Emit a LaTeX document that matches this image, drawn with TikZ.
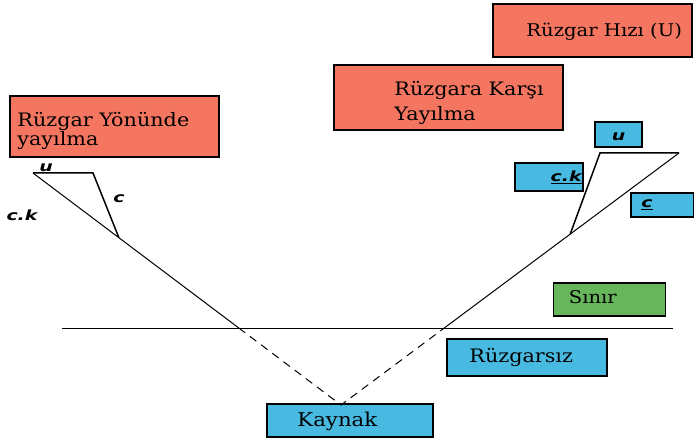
\documentclass[tikz,border=0pt]{standalone}
\usepackage{fontspec}
\setmainfont{DejaVu Serif}[FakeStretch=1.12]
\setsansfont{DejaVu Sans}
\newfontfamily\symfont{DejaVu Sans}[FakeStretch=1.35]
\usetikzlibrary{calc}

\definecolor{salmon}{RGB}{244,118,96}
\definecolor{skyblue}{RGB}{72,186,226}
\definecolor{grass}{RGB}{104,182,92}

\begin{document}
\begin{tikzpicture}[
  x=1pt, y=-1pt,
  box/.style={draw, line width=1.6pt, inner sep=0pt},
  redbox/.style={box, fill=salmon},
  bluebox/.style={box, fill=skyblue},
  greenbox/.style={box, fill=grass},
  boxtext/.style={align=left, inner sep=0pt, text height=12pt, text depth=3pt,
    font=\fontsize{18}{18}\selectfont},
  sym/.style={font=\symfont\bfseries\itshape\fontsize{14}{14}\selectfont, inner sep=0pt},
  ray/.style={line width=1pt},
  cline/.style={line width=1.5pt},
  wave/.style={line width=1pt, dash pattern=on 8pt off 6pt}
]
\useasboundingbox (0,0) rectangle (694,441);

% ── text boxes ──────────────────────────────────────────────────────────
\node[redbox, minimum width=199pt, minimum height=53pt,
  label={[boxtext, anchor=west, xshift=34pt, yshift=-2pt, font=\fontsize{17.5}{18}\selectfont]west:R\"uzgar H{\i}z{\i} (U)}]
  (hiz) at (592.5,30.5) {};
\node[redbox, minimum width=229pt, minimum height=65pt,
  label={[boxtext, anchor=west, xshift=61pt, yshift=-19pt, font=\fontsize{18.5}{25}\selectfont]west:R\"uzgara Kar\c{s}{\i}\\Yay{\i}lma}]
  (karsi) at (448.5,97.5) {};
\node[redbox, minimum width=209pt, minimum height=61pt,
  label={[boxtext, anchor=west, xshift=8pt, yshift=-15pt, font=\fontsize{18.5}{18}\selectfont]west:R\"uzgar Y\"on\"unde\\yay{\i}lma}]
  (yonunde) at (114.5,126.5) {};
\node[greenbox, minimum width=112pt, minimum height=33pt,
  label={[boxtext, anchor=west, xshift=16pt, yshift=1pt, font=\fontsize{17.5}{18}\selectfont]west:S{\i}n{\i}r}]
  (sinir) at (609.5,299.5) {};
\node[bluebox, minimum width=160pt, minimum height=37pt,
  label={[boxtext, anchor=west, xshift=23pt, font=\fontsize{18.5}{18}\selectfont]west:R\"uzgars{\i}z}]
  (ruzgarsiz) at (527,357.5) {};
\node[bluebox, minimum width=166pt, minimum height=33pt,
  label={[boxtext, anchor=west, xshift=31pt, yshift=-1pt, font=\fontsize{19}{18}\selectfont]west:Kaynak}]
  (kaynak) at (350,420.5) {};

% ── symbol boxes on the right ───────────────────────────────────────────
\node[bluebox, minimum width=47pt, minimum height=25pt] (ubox) at (618.5,134.5) {};
\node[sym] at ($(ubox)+(0,2)$) {u};
\node[bluebox, minimum width=68pt, minimum height=28pt] (ckbox) at (549,177) {};
\node[sym, anchor=east] at ($(ckbox.east)+(-2,0)$) {\underline{c.k}};
\node[bluebox, minimum width=63pt, minimum height=24pt] (cbox) at (662.5,205) {};
\node[sym, anchor=west] at ($(cbox.west)+(11,0)$) {\underline{c}};

% ── plume edges ─────────────────────────────────────────────────────────
\coordinate (src) at (341,405);
\coordinate (ltop) at (33,173);
\coordinate (lu) at (93,173);
\coordinate (rtop) at (679,153);
\coordinate (ru) at (600,153);
\coordinate (lcross) at ($(src)!0.332!(ltop)$);
\coordinate (lmid) at ($(src)!0.721!(ltop)$);
\coordinate (rcross) at ($(src)!0.306!(rtop)$);
\coordinate (rmid) at ($(src)!0.678!(rtop)$);
\coordinate (bl) at (62,328);
\coordinate (br) at (673,328);

\draw[ray] (bl) -- (br);
\draw[wave] (lcross) -- (src) -- (rcross);
\draw[ray] (lcross) -- (ltop);
\draw[ray] (rcross) -- (rtop);
\draw[cline] (ltop) -- (lu) -- (lmid);
\draw[cline] (rtop) -- (ru) -- (rmid);

% ── velocity labels on the left ─────────────────────────────────────────
\node[sym] (ul) at (46,168) {u};
\node[sym] (cl) at (119,199) {c};
\node[sym] (ckl) at (22,215) {c.k};

\end{tikzpicture}
\end{document}
